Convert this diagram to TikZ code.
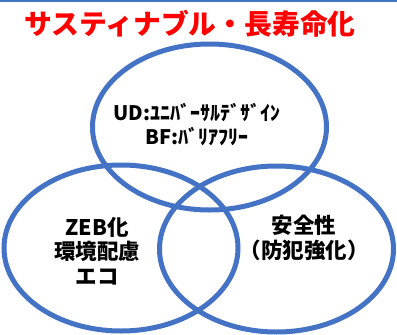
\documentclass[tikz,border=0pt]{standalone}
\usepackage{fontspec}
\setmainfont{Noto Sans CJK JP}
\usetikzlibrary{shapes.geometric}
\definecolor{vblue}{HTML}{4472C4}
\definecolor{vred}{HTML}{FF0000}
\tikzset{
  venn/.style={draw=vblue, line width=5pt, ellipse, minimum width=234pt, minimum height=166pt, inner sep=0pt},
  lbl/.style={font=\fontsize{21.5}{24.5}\selectfont\bfseries, align=center, inner sep=0pt, text=black},
}
\begin{document}
\begin{tikzpicture}[x=1pt,y=-1pt]
\useasboundingbox (0,0) rectangle (397,335);
\fill[white] (0,0) rectangle (397,335);
\fill[vblue] (0,0) rectangle (397,2.2);
\node[font=\fontsize{27.8}{30}\selectfont\bfseries, text=vred, inner sep=0pt] (title) at (190,24) {サスティナブル・長寿命化};
\node[venn] (top) at (209.5,127) {};
\node[venn] (left) at (121,248) {};
\node[venn] (right) at (276.5,249) {};
\node[font=\fontsize{20}{24}\selectfont\bfseries, align=center, inner sep=0pt] (ud) at (197,125) {UD:ﾕﾆﾊﾞｰｻﾙﾃﾞｻﾞｲﾝ\\BF:ﾊﾞﾘｱﾌﾘｰ};
\node[lbl] (zeb) at (97,251) {ZEB化\\環境配慮\\エコ};
\node[lbl] (safe) at (304,238) {安全性\\（防犯強化）};
\end{tikzpicture}
\end{document}
